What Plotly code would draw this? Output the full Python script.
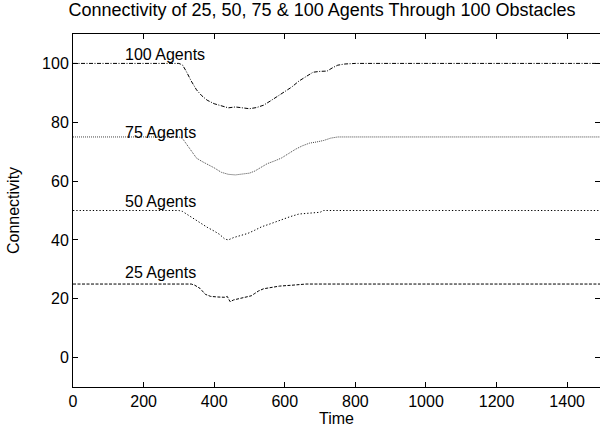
import plotly.graph_objects as go

# ---- data ----
t100 = [0, 300, 310, 320, 335, 350, 365, 380, 400, 420, 440, 460, 480, 500, 520, 540, 560, 580,
        600, 620, 640, 660, 680, 700, 720, 735, 750, 770, 800, 1500]
v100 = [100, 100, 99.5, 97.5, 94.0, 91.0, 89.0, 87.5, 86.3, 85.5, 84.9, 85.2, 84.8, 84.6, 85.0,
        85.8, 87.3, 88.8, 90.3, 92.0, 94.0, 95.5, 97.0, 97.3, 97.4, 98.5, 99.4, 99.8, 100, 100]

t75 = [0, 300, 310, 320, 335, 350, 365, 380, 400, 420, 440, 460, 480, 500, 515, 530, 550, 570,
       590, 610, 630, 650, 670, 690, 710, 730, 750, 1500]
v75 = [75, 75, 74.5, 72.8, 70.0, 67.8, 66.7, 65.8, 64.5, 63.0, 62.3, 62.1, 62.3, 62.7, 63.4,
       64.6, 65.9, 66.8, 67.8, 69.3, 70.8, 72.0, 72.9, 73.3, 73.8, 74.6, 75, 75]

t50 = [0, 300, 310, 325, 340, 360, 380, 400, 415, 430, 440, 455, 475, 495, 515, 535, 555, 575,
       595, 615, 640, 660, 680, 700, 710, 1500]
v50 = [50, 50, 49.7, 48.5, 47.3, 45.8, 44.3, 43.0, 41.9, 40.3, 40.0, 40.8, 41.5, 42.2, 43.3,
       44.5, 45.3, 46.2, 47.0, 47.9, 48.8, 48.9, 49.2, 49.4, 50, 50]

t25 = [0, 335, 345, 360, 375, 390, 410, 430, 437, 445, 455, 470, 490, 505, 515, 525, 540, 560,
       585, 620, 660, 1500]
v25 = [25, 25, 24.6, 23.5, 21.5, 20.8, 20.6, 20.5, 20.8, 19.0, 19.6, 20.0, 20.5, 21.0, 21.8,
       22.6, 23.4, 23.9, 24.3, 24.6, 25, 25]

labels = ["100 Agents", "75 Agents", "50 Agents", "25 Agents"]
label_x = [142, 142, 142, 142]
label_y = [103.0, 76.5, 53.0, 29.0]

x_ticks = [0, 200, 400, 600, 800, 1000, 1200, 1400]
y_ticks = [0, 20, 40, 60, 80, 100]

FONT = "Liberation Sans, Arial, Helvetica, sans-serif"

fig = go.Figure()
series = [
    (t100, v100, "black", "4px,1.5px,1px,1.5px"),
    (t75, v75, "#444444", "1px,1px"),
    (t50, v50, "black", "1.3px,2px"),
    (t25, v25, "black", "3px,1.5px"),
]
for (tx, vy, col, dash), name in zip(series, labels):
    fig.add_trace(go.Scatter(x=tx, y=vy, mode="lines", name=name,
                             line=dict(color=col, width=1, dash=dash),
                             showlegend=False, hoverinfo="skip"))

# invisible trace to carry the right-hand (mirrored) tick axis
fig.add_trace(go.Scatter(x=[t100[0]], y=[v100[0]], yaxis="y2", mode="markers",
                         marker=dict(opacity=0), showlegend=False, hoverinfo="skip"))

for txt, lx, ly in zip(labels, label_x, label_y):
    fig.add_annotation(x=lx, y=ly, xref="x", yref="y", text=txt, showarrow=False,
                       xanchor="left", yanchor="middle",
                       font=dict(family=FONT, size=16, color="black"))

fig.update_layout(
    width=600, height=432,
    margin=dict(l=73, r=0, t=34, b=45),
    paper_bgcolor="white", plot_bgcolor="white",
    font=dict(family=FONT, size=16, color="black"),
    title=dict(text="Connectivity of 25, 50, 75 & 100 Agents Through 100 Obstacles",
               x=0.4725, xref="paper", xanchor="center", y=0.978, yref="container",
               yanchor="middle", font=dict(family=FONT, size=18, color="black")),
    yaxis2=dict(overlaying="y", side="right", range=[-10, 110], tickvals=y_ticks,
                ticks="inside", ticklen=5, tickwidth=1, tickcolor="black",
                showticklabels=False, showline=False, showgrid=False, zeroline=False),
)
fig.update_xaxes(range=[0, 1493], tickvals=x_ticks, ticks="inside", ticklen=5,
                 tickwidth=1, tickcolor="black", showline=True, linecolor="black",
                 linewidth=1, mirror="ticks", showgrid=False, zeroline=False,
                 title=dict(text="Time", standoff=2, font=dict(size=16)))
fig.update_layout(yaxis=dict(range=[-10, 110], tickvals=y_ticks, ticks="inside", ticklen=5,
                             tickwidth=1, tickcolor="black", showline=True, linecolor="black",
                             linewidth=1, mirror=False, showgrid=False, zeroline=False,
                             title=dict(text="Connectivity", standoff=18, font=dict(size=16))))

fig.write_html("out.html")
